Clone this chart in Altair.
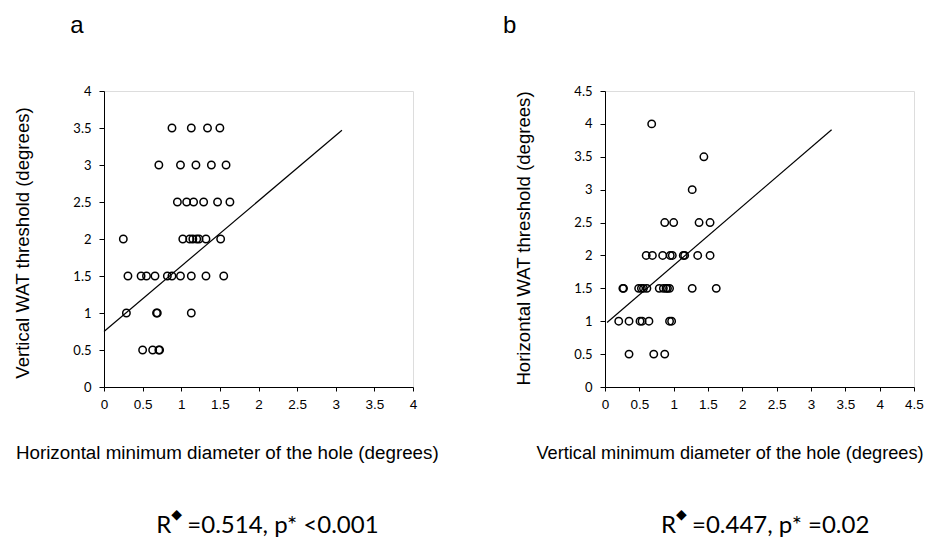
import altair as alt
import pandas as pd

# ---------------- Panel a data ----------------
a_x = [0.88, 1.13, 1.34, 1.50,
       0.71, 0.99, 1.19, 1.39, 1.58,
       0.95, 1.07, 1.16, 1.29, 1.47, 1.63,
       0.25, 1.02, 1.11, 1.15, 1.20, 1.23, 1.32, 1.51,
       0.31, 0.48, 0.55, 0.66, 0.82, 0.88, 0.99, 1.13, 1.32, 1.55,
       0.29, 0.68, 0.69, 1.13,
       0.50, 0.63, 0.71, 0.72]
a_y = [3.5] * 4 + [3.0] * 5 + [2.5] * 6 + [2.0] * 8 + [1.5] * 10 + [1.0] * 4 + [0.5] * 4
a_line_x = [0.0, 3.08]
a_line_y = [0.75, 3.47]

# ---------------- Panel b data ----------------
b_x = [0.68,
       1.44,
       1.27,
       0.87, 1.00, 1.37, 1.53,
       0.60, 0.69, 0.84, 0.95, 0.98, 1.14, 1.16, 1.35, 1.53,
       0.26, 0.27, 0.49, 0.53, 0.56, 0.61, 0.79, 0.85, 0.89, 0.91, 0.94, 1.27, 1.62,
       0.20, 0.35, 0.51, 0.54, 0.64, 0.94, 0.97,
       0.35, 0.71, 0.87]
b_y = [4.0] + [3.5] + [3.0] + [2.5] * 4 + [2.0] * 9 + [1.5] * 13 + [1.0] * 7 + [0.5] * 3
b_line_x = [0.03, 3.30]
b_line_y = [0.98, 3.91]

ticks_a = [0, 0.5, 1, 1.5, 2, 2.5, 3, 3.5, 4]
ticks_b = [0, 0.5, 1, 1.5, 2, 2.5, 3, 3.5, 4, 4.5]

W, H = 309, 296
TITLE_FONT = "Liberation Sans"
XLAB_FONT = "Liberation Sans"
YLAB_FONT = "Lato"
ANN_FONT = "Lato"
LETTER_FONT = "Liberation Sans"
R_Y = 442


def panel(xs, ys, lx, ly, ticks, xtitle, ytitle, xt_size, letter, letter_x, letter_y,
          r_val, p_txt, r_x, xt_center, yt_x, yt_center, anchor=False):
    dmax = ticks[-1]
    pts = pd.DataFrame({"x": xs, "y": ys})
    line = pd.DataFrame({"x": lx, "y": ly})
    xs_ = alt.Scale(domain=[0, dmax], nice=False, zero=True)
    ys_ = alt.Scale(domain=[0, dmax], nice=False, zero=True)
    n = len(ticks)
    xax = alt.Axis(values=ticks, tickCount=n, format="~g", title=None, grid=False,
                   labelFont=XLAB_FONT, labelFontSize=13.5, labelColor="black",
                   labelPadding=6, tickSize=4, tickColor="black",
                   domainColor="black", labelFlush=False, labelOverlap=False)
    yax = alt.Axis(values=ticks, tickCount=n, format="~g", title=None, grid=False,
                   labelFont=YLAB_FONT, labelFontSize=13, labelColor="black",
                   labelPadding=8, tickSize=5, tickColor="black",
                   domainColor="black", labelFlush=False, labelOverlap=False)
    base_pts = alt.Chart(pts).mark_point(
        shape="circle", filled=False, color="black", size=55, strokeWidth=1.5, opacity=1
    ).encode(
        x=alt.X("x:Q", scale=xs_, axis=xax),
        y=alt.Y("y:Q", scale=ys_, axis=yax),
    )
    reg = alt.Chart(line).mark_line(color="black", strokeWidth=1.2).encode(
        x=alt.X("x:Q", scale=xs_, axis=xax),
        y=alt.Y("y:Q", scale=ys_, axis=yax),
    )
    one = pd.DataFrame({"k": [0]})
    xt = alt.Chart(one).mark_text(
        text=xtitle, font=TITLE_FONT, fontSize=xt_size, color="black",
        align="center", baseline="alphabetic"
    ).encode(x=alt.value(xt_center), y=alt.value(368))
    yt = alt.Chart(one).mark_text(
        text=ytitle, font=TITLE_FONT, fontSize=18.6, color="black",
        align="center", baseline="alphabetic", angle=270
    ).encode(x=alt.value(yt_x), y=alt.value(yt_center))
    let = alt.Chart(one).mark_text(
        text=letter, font=LETTER_FONT, fontSize=24, color="black",
        align="left", baseline="alphabetic"
    ).encode(x=alt.value(letter_x), y=alt.value(letter_y))
    r1 = alt.Chart(one).mark_text(
        text="R", font=ANN_FONT, fontSize=24, color="black",
        align="left", baseline="alphabetic"
    ).encode(x=alt.value(r_x), y=alt.value(R_Y))
    r2 = alt.Chart(one).mark_text(
        text="\u25C6", font="DejaVu Sans", fontSize=14, color="black",
        align="left", baseline="alphabetic"
    ).encode(x=alt.value(r_x + 15), y=alt.value(R_Y - 14))
    r3 = alt.Chart(one).mark_text(
        text="=" + r_val + ", p* " + p_txt, font=ANN_FONT, fontSize=24, color="black",
        align="left", baseline="alphabetic"
    ).encode(x=alt.value(r_x + 31), y=alt.value(R_Y))
    layers = [reg, base_pts, xt, yt, let, r1, r2, r3]
    if anchor:
        anc = alt.Chart(one).mark_rule(opacity=0, color="white").encode(
            x=alt.value(-94.7), y=alt.value(-82), y2=alt.value(-81))
        layers.append(anc)
    return alt.layer(*layers).properties(width=W, height=H)


pa = panel(a_x, a_y, a_line_x, a_line_y, ticks_a,
           "Horizontal minimum diameter of the hole (degrees)",
           "Vertical WAT threshold (degrees)", 18.8,
           "a", -33.7, -58.5, "0.514", "<0.001", 52.3, 123.3, -75.5, 152, anchor=True)
pb = panel(b_x, b_y, b_line_x, b_line_y, ticks_b,
           "Vertical minimum diameter of the hole (degrees)",
           "Horizontal WAT threshold (degrees)", 18.2,
           "b", -102, -58.5, "0.447", "=0.02", 56, 125, -75, 147.5)

chart = alt.hconcat(pa, pb, spacing=192, bounds="flush").properties(
    padding={"left": 0, "top": 0, "right": 0, "bottom": 0}
).configure_view(
    stroke="black", strokeWidth=1
).configure(background="white")

chart.save("out.html", embed_options={"renderer": "svg", "actions": False})
